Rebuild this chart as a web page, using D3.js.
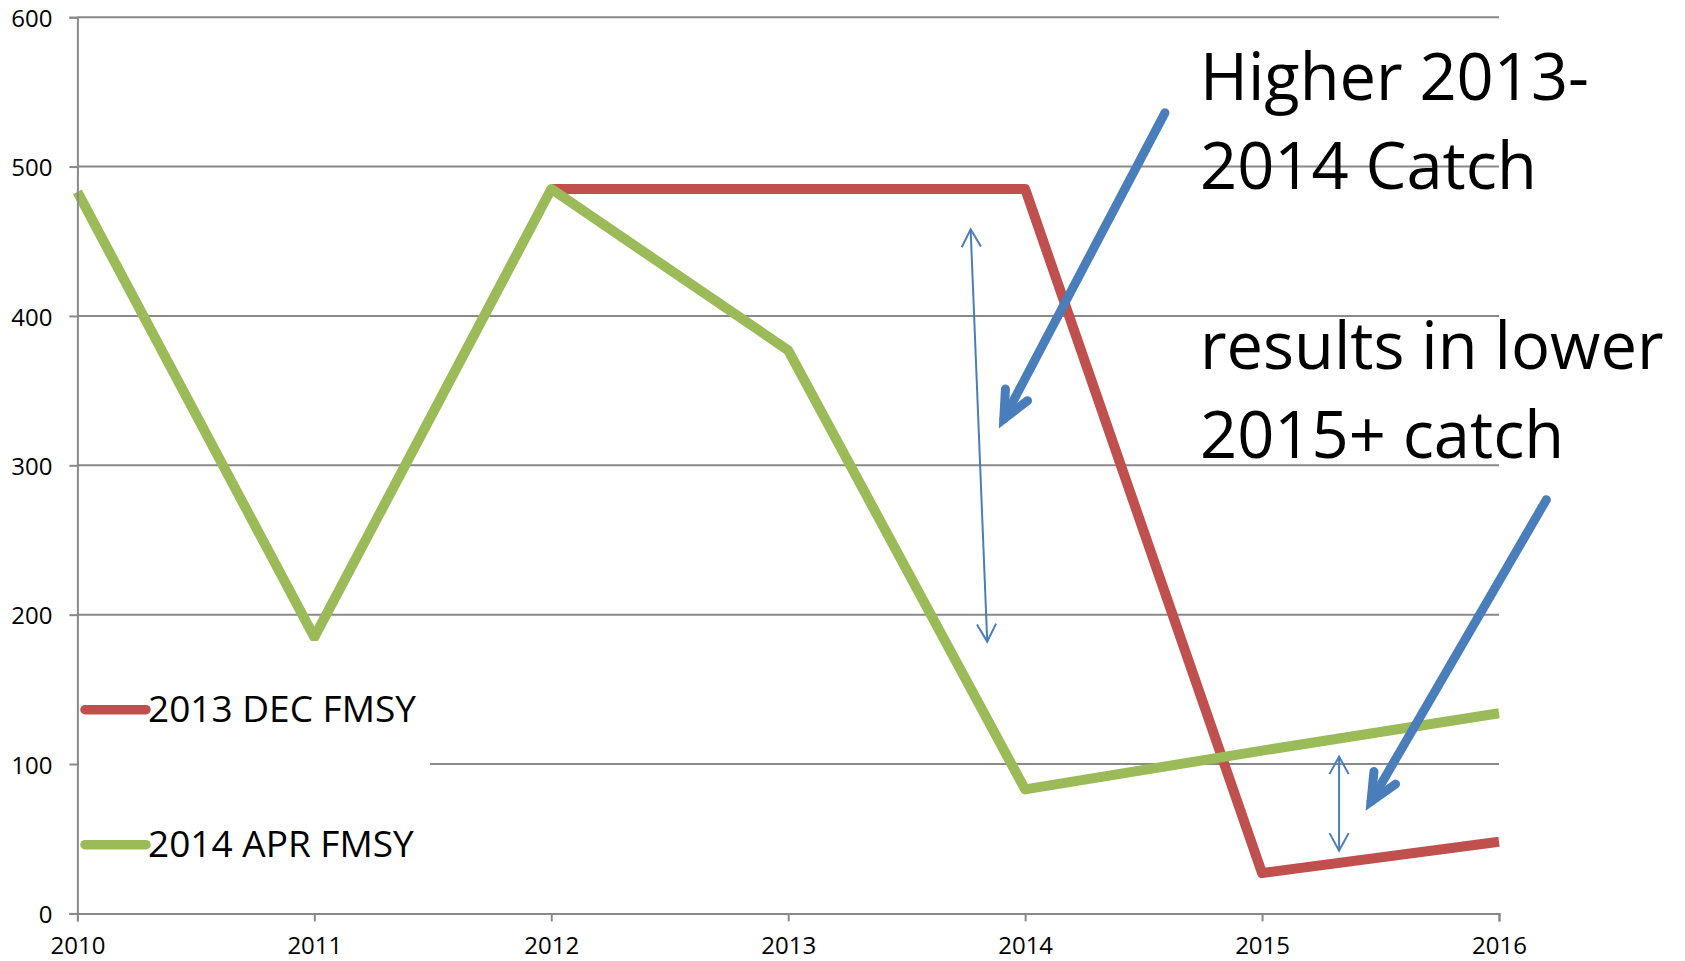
<!DOCTYPE html>
<html>
<head>
<meta charset="utf-8">
<script src="https://cdn.jsdelivr.net/npm/d3@7"></script>
<style>
  body { margin: 0; background: #fff; }
  svg { display: block; font-family: "Open Sans", sans-serif; }
</style>
</head>
<body>
<svg id="chart" width="1685" height="961"></svg>
<script>
// data
var years = [2010, 2011, 2012, 2013, 2014, 2015, 2016];
var dec2013 = [null, null, 485, 485, 485, 27, 48];
var apr2014 = [483, 185, 485, 377, 83, 109, 134];
var yTicks = [0, 100, 200, 300, 400, 500, 600];
var seriesNames = ['2013 DEC FMSY', '2014 APR FMSY'];
var noteLines = ['Higher 2013-', '2014 Catch', '', 'results in lower', '2015+ catch'];

// annotation arrows, in data units [x0, y0, x1, y1]
var thinArrows = [[2013.77, 458, 2013.84, 182], [2015.325, 105, 2015.325, 42]];
var thickArrows = [[2014.59, 536, 2013.91, 331], [2016.2, 277, 2015.46, 75]];

var svg = d3.select('#chart');
var m = {l: 77.4, r: 1499, t: 17.2, b: 913.4};

var x = d3.scaleLinear().domain([2010, 2016]).range([m.l, m.r]);
var y = d3.scaleLinear().domain([0, 600]).range([m.b, m.t]);

var grey = '#898989';
var red = '#c0504d', green = '#9bbb59', blue = '#4a7ebb';

// gridlines
svg.append('g').selectAll('line').data(yTicks.slice(1)).enter().append('line')
  .attr('x1', m.l).attr('x2', m.r)
  .attr('y1', function(d){ return y(d); }).attr('y2', function(d){ return y(d); })
  .attr('stroke', grey).attr('stroke-width', 2);

// series lines
var line = d3.line()
  .defined(function(d){ return d[1] != null; })
  .x(function(d){ return x(d[0]); })
  .y(function(d){ return y(d[1]); });

[[dec2013, red], [apr2014, green]].forEach(function(s){
  svg.append('path')
    .datum(years.map(function(yr, i){ return [yr, s[0][i]]; }))
    .attr('d', line)
    .attr('fill', 'none')
    .attr('stroke', s[1])
    .attr('stroke-width', 10)
    .attr('stroke-linejoin', 'round')
    .attr('stroke-linecap', 'butt');
});

// legend box hides gridlines behind it
var lg = svg.append('g');
lg.append('rect').attr('x', 79).attr('y', 641).attr('width', 351).attr('height', 270).attr('fill', '#fff');
seriesNames.forEach(function(n, i){
  var cy = 709.7 + i * 135;
  lg.append('line').attr('x1', 85).attr('x2', 146).attr('y1', cy).attr('y2', cy)
    .attr('stroke', i ? green : red).attr('stroke-width', 9.5).attr('stroke-linecap', 'round');
  lg.append('text').attr('x', 148).attr('y', cy + 12).attr('font-size', 37).text(n);
});

// axes
var yAxis = d3.axisLeft(y).tickValues(yTicks).tickSize(8).tickPadding(17);
var xAxis = d3.axisBottom(x).tickValues(years).tickFormat(d3.format('d')).tickSize(8).tickPadding(16);

var ya = svg.append('g').attr('transform', 'translate(' + m.l + ',0)').call(yAxis);
var xa = svg.append('g').attr('transform', 'translate(0,' + m.b + ')').call(xAxis);
[ya, xa].forEach(function(a){
  a.select('.domain').attr('stroke', grey).attr('stroke-width', 2);
  a.selectAll('.tick line').attr('stroke', grey).attr('stroke-width', 2);
  a.selectAll('text').attr('font-size', 24).attr('fill', '#000').attr('font-family', '"Open Sans", sans-serif');
});
ya.selectAll('text').attr('dy', '0.38em');

// arrowheads, built in pixel space after scaling
function head(px, py, fx, fy, len, ang){
  var a = Math.atan2(fy - py, fx - px);
  var p1 = [px + len * Math.cos(a + ang), py + len * Math.sin(a + ang)];
  var p2 = [px + len * Math.cos(a - ang), py + len * Math.sin(a - ang)];
  return 'M' + p1 + 'L' + px + ',' + py + 'L' + p2;
}

var ann = svg.append('g').attr('fill', 'none').attr('stroke', blue);
thinArrows.forEach(function(d){
  var x0 = x(d[0]), y0 = y(d[1]), x1 = x(d[2]), y1 = y(d[3]);
  ann.append('line').attr('x1', x0).attr('y1', y0).attr('x2', x1).attr('y2', y1).attr('stroke-width', 2);
  ann.append('path').attr('d', head(x0, y0, x1, y1, 20, 0.5)).attr('stroke-width', 2);
  ann.append('path').attr('d', head(x1, y1, x0, y0, 20, 0.5)).attr('stroke-width', 2);
});
thickArrows.forEach(function(d){
  var x0 = x(d[0]), y0 = y(d[1]), x1 = x(d[2]), y1 = y(d[3]);
  ann.append('line').attr('x1', x0).attr('y1', y0).attr('x2', x1).attr('y2', y1)
    .attr('stroke-width', 9).attr('stroke-linecap', 'round');
  ann.append('path').attr('d', head(x1, y1, x0, y0, 30, 0.43))
    .attr('stroke-width', 9).attr('stroke-linecap', 'round').attr('stroke-linejoin', 'miter');
});

// note text
var base = [100, 189, 279, 369, 458];
noteLines.forEach(function(t, i){
  if (!t) return;
  svg.append('text').attr('x', 1200).attr('y', base[i]).attr('font-size', 65).attr('fill', '#000').text(t);
});
</script>
</body>
</html>
